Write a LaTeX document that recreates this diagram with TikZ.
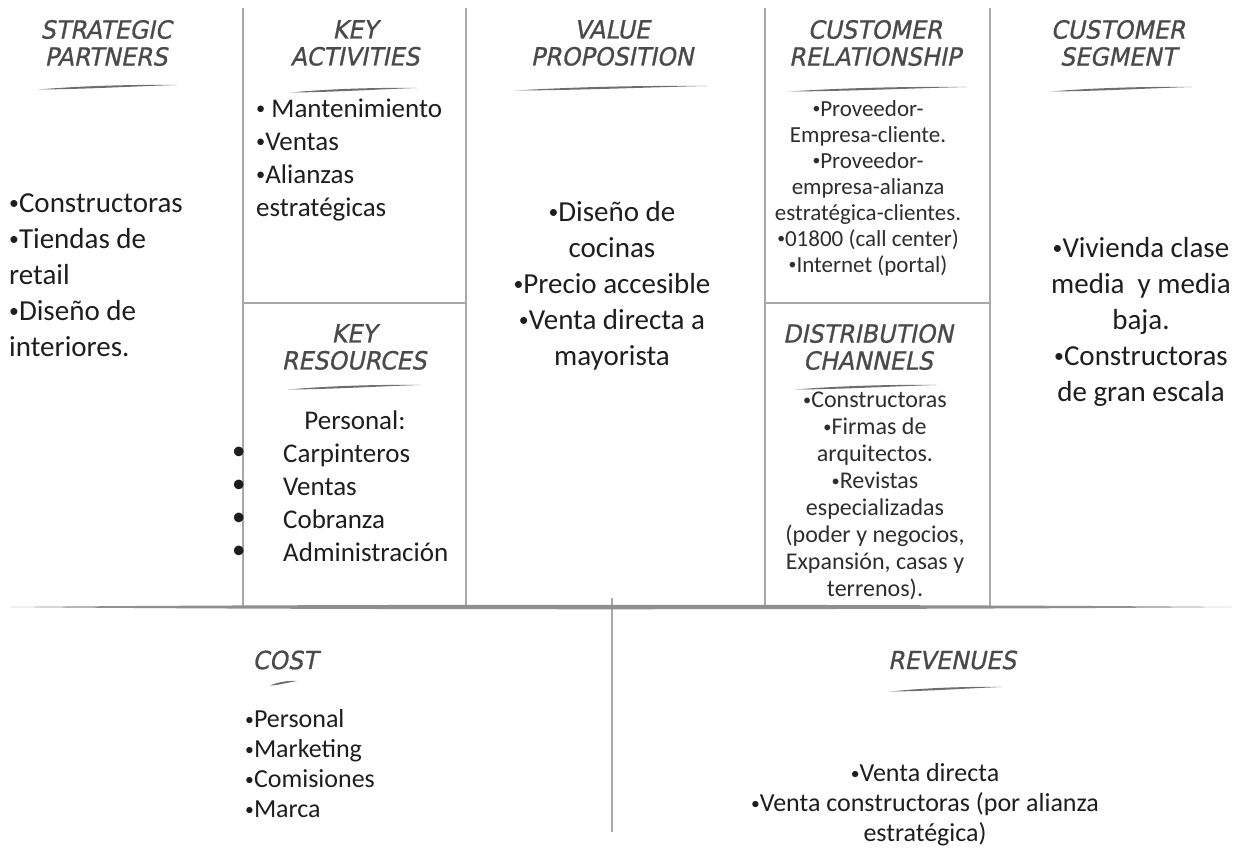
\documentclass[tikz,border=0pt]{standalone}
\usepackage{fontspec}
\usepackage{graphicx}
\setmainfont{Carlito}
\newfontfamily\hdrfont{DejaVu Sans}[FakeSlant=0.2,FakeStretch=0.95,FakeBold=0.9]
\definecolor{hdrc}{HTML}{4A4A4A}
\definecolor{rulec}{HTML}{A8A8A8}
\definecolor{txt}{HTML}{1E1E1E}
\definecolor{txtb}{HTML}{2E2E2E}

% small list bullet
\newcommand\bul{\raisebox{0.1em}{\scalebox{0.68}{•}}}

% tapered brush stroke under a heading: left end, right end, height
\newcommand\brushline[3]{%
  \fill[hdrc!80] (#1,#3+2.5)
    .. controls ({#1+0.35*(#2-#1)},#3-1.5) and ({#1+0.7*(#2-#1)},#3-2.5) .. (#2,#3-2)
    .. controls ({#1+0.7*(#2-#1)},#3-0.8) and ({#1+0.35*(#2-#1)},#3+2.2) .. (#1,#3+2.5) -- cycle;}

\begin{document}
\begin{tikzpicture}[x=1pt,y=-1pt,
  hdr/.style={font=\hdrfont\fontsize{25}{27}\selectfont, text=hdrc, align=center, inner sep=0pt},
  big/.style={font=\fontsize{29}{36}\selectfont, text=txt, inner sep=0pt},
  mid/.style={font=\fontsize{27}{33}\selectfont, text=txt, inner sep=0pt},
  low/.style={font=\fontsize{26}{30}\selectfont, text=txt, inner sep=0pt},
  small/.style={font=\fontsize{23}{26}\selectfont, text=txtb, inner sep=0pt},
  tiny/.style={font=\fontsize{24}{27}\selectfont, text=txtb, inner sep=0pt},
  vline/.style={draw=rulec, line width=1.8pt},
  splitline/.style={draw=rulec, line width=1.5pt}
]
\useasboundingbox (0,0) rectangle (1237,863);
\fill[white] (0,0) rectangle (1237,863);

% column frame
\coordinate (c1t) at (243,8);   \coordinate (c1b) at (243,607);
\coordinate (c2t) at (466,8);   \coordinate (c2b) at (466,607);
\coordinate (c3t) at (765,8);   \coordinate (c3b) at (765,607);
\coordinate (c4t) at (990,8);   \coordinate (c4b) at (990,607);
\coordinate (c5t) at (612,598); \coordinate (c5b) at (612,832);
\draw[vline] (c1t) -- (c1b);
\draw[vline] (c2t) -- (c2b);
\draw[vline] (c3t) -- (c3b);
\draw[vline] (c4t) -- (c4b);
\draw[vline, line width=1.5pt] (c5t) -- (c5b);
\draw[splitline] (c1t |- 0,303) -- (c2t |- 0,303);
\draw[splitline] (c3t |- 0,303) -- (c4t |- 0,303);

% thick brush rule between the canvas and the bottom row
\fill[rulec!85!black] (10,607) .. controls (300,604) and (900,604) .. (1232,607)
  .. controls (900,610) and (300,610) .. (10,607) -- cycle;

% headings
\node[hdr] (hsp) at (106,43) {STRATEGIC\\PARTNERS};
\brushline{38}{177}{87}
\node[hdr] (hka) at (355,43) {KEY\\ACTIVITIES};
\brushline{290}{417}{90}
\node[hdr] (hvp) at (612,43) {VALUE\\PROPOSITION};
\brushline{515}{707}{88}
\node[hdr] (hcr) at (875,43) {CUSTOMER\\RELATIONSHIP};
\brushline{788}{967}{89}
\node[hdr] (hcs) at (1118,43) {CUSTOMER\\SEGMENT};
\brushline{1050}{1192}{89}
\node[hdr] (hkr) at (354,347) {KEY\\RESOURCES};
\brushline{288}{420}{387}
\node[hdr] (hdc) at (868,347) {DISTRIBUTION\\CHANNELS};
\brushline{795}{937}{387}
\node[hdr] (hco) at (285,660) {COST};
\brushline{270}{297}{683}
\node[hdr] (hre) at (952,660) {REVENUES};
\brushline{890}{1002}{689}

% strategic partners
\node[big, anchor=west, align=left] (sp) at (9,275)
  {\bul Constructoras\\\bul Tiendas de\\retail\\\bul Diseño de\\interiores.};

% key activities
\node[mid, anchor=west, align=left] (ka) at (256,160)
  {\bul\ Mantenimiento\\\bul Ventas\\\bul Alianzas\\estratégicas};

% value proposition
\node[big, align=center] (vp) at (612,286)
  {\bul Diseño de\\cocinas\\\bul Precio accesible\\\bul Venta directa a\\mayorista};

% customer relationship
\node[small, align=center] (cr) at (868,188)
  {\bul Proveedor-\\Empresa-cliente.\\\bul Proveedor-\\empresa-alianza\\estratégica-clientes.\\\bul 01800 (call center)\\\bul Internet (portal)};

% customer segment
\node[big, align=center] (cs) at (1141,322)
  {\bul Vivienda clase\\media\ \ y media\\baja.\\\bul Constructoras\\de gran escala};

% key resources
\node[mid] (krt) at (355,420) {Personal:};
\node[mid, anchor=west, align=left] (kr) at (283,503)
  {Carpinteros\\Ventas\\Cobranza\\Administración};
\node[mid, anchor=west, align=left] (krb) at (232,503) {•\\•\\•\\•};

% distribution channels
\node[tiny, align=center] (dc) at (875,496)
  {\bul Constructoras\\\bul Firmas de\\arquitectos.\\\bul Revistas\\especializadas\\(poder y negocios,\\Expansión, casas y\\terrenos).};

% cost
\node[low, anchor=west, align=left] (co) at (245,764)
  {\bul Personal\\\bul Marketing\\\bul Comisiones\\\bul Marca};

% revenues
\node[low, align=center] (re) at (925,805)
  {\bul Venta directa\\\bul Venta constructoras (por alianza\\estratégica)};
\end{tikzpicture}
\end{document}
